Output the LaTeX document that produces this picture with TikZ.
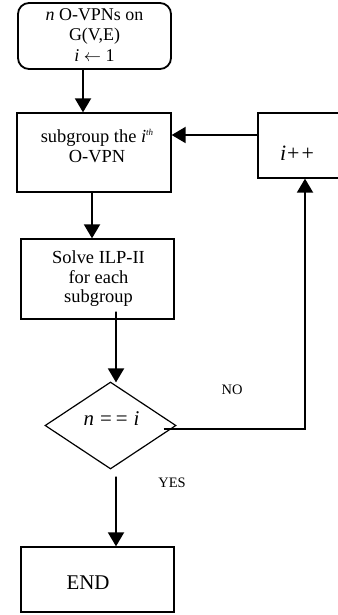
\documentclass[tikz,border=0pt]{standalone}
\usepackage{fontspec}
\setmainfont{Liberation Serif}
\usetikzlibrary{arrows.meta,shapes.geometric}
\begin{document}
\begin{tikzpicture}[x=1bp,y=-1bp,
  boxline/.style={draw=black,line width=1.3bp,inner sep=0pt},
  txt/.style={align=center,font=\fontsize{18.5}{19.5}\selectfont,inner sep=0pt},
  flow/.style={line width=1.9bp,-{Triangle[width=16bp,length=14bp]}},
  lbl/.style={font=\fontsize{14.5}{15}\selectfont,inner sep=0pt}]
\useasboundingbox (0,0) rectangle (337,615);
% start box
\node[boxline,line width=1.8bp,rounded corners=11bp,minimum width=153bp,minimum height=66bp] (start) at (94.5,36) {};
\node[txt,font=\fontsize{18}{20.5}\selectfont] at (94.5,35) {\textit{n} O-VPNs on\\G(V,E)\\\textit{i} $\leftarrow$ 1};
% subgroup box
\node[boxline,minimum width=154bp,minimum height=79bp] (sub) at (94,152.5) {};
\node[txt] at (97,146) {subgroup the \textit{i}\raisebox{7bp}{\fontsize{9}{9}\selectfont\textit{th}}\\O-VPN};
% i++ box
\node[boxline,minimum width=84bp,minimum height=65bp] (inc) at (300,145.5) {};
\node[txt,font=\fontsize{22}{22}\selectfont] at (297,153) {\textit{i}\kern1bp+\kern2bp+};
% solve box
\node[boxline,minimum width=153bp,minimum height=80bp] (solve) at (97.5,279) {};
\node[txt] at (98.5,279) {Solve ILP-II\\for each\\subgroup};
% decision
\node[boxline,line width=1.2bp,shape=diamond,minimum width=131bp,minimum height=87bp] (dec) at (110.5,425.5) {};
\node[txt,font=\fontsize{21}{22}\selectfont] at (111.5,419) {\textit{n}\hspace{6bp}=\hspace{4bp}=\hspace{6bp}\textit{i}};
% end
\node[boxline,minimum width=153bp,minimum height=65bp] (end) at (97.5,579.5) {};
\node[txt,font=\fontsize{21}{22}\selectfont] at (88,583) {END};
% labels
\node[lbl] at (232,390) {NO};
\node[lbl] at (172,483) {YES};
% connectors
\draw[flow] ([xshift=-11.5bp]start.south) -- ([xshift=-11bp]sub.north);
\draw[flow] (inc.west |- 0,135) -- (sub.east |- 0,135);
\draw[flow] ([xshift=-2bp]sub.south) -- ([xshift=-5.5bp]solve.north);
\draw[flow] ([xshift=18.5bp,yshift=8bp]solve.south) -- ([xshift=5.5bp,yshift=-1bp]dec.north);
\draw[line width=1.9bp] ([xshift=-13bp,yshift=-3.5bp]dec.east) -| ([xshift=5bp,yshift=-3bp]inc.south);
\draw[flow] ([xshift=5bp,yshift=-8bp]inc.south) -- ([xshift=5bp]inc.south);
\draw[flow] ([xshift=5.5bp,yshift=-7bp]dec.south) -- ([xshift=18.5bp]end.north);
\end{tikzpicture}
\end{document}
